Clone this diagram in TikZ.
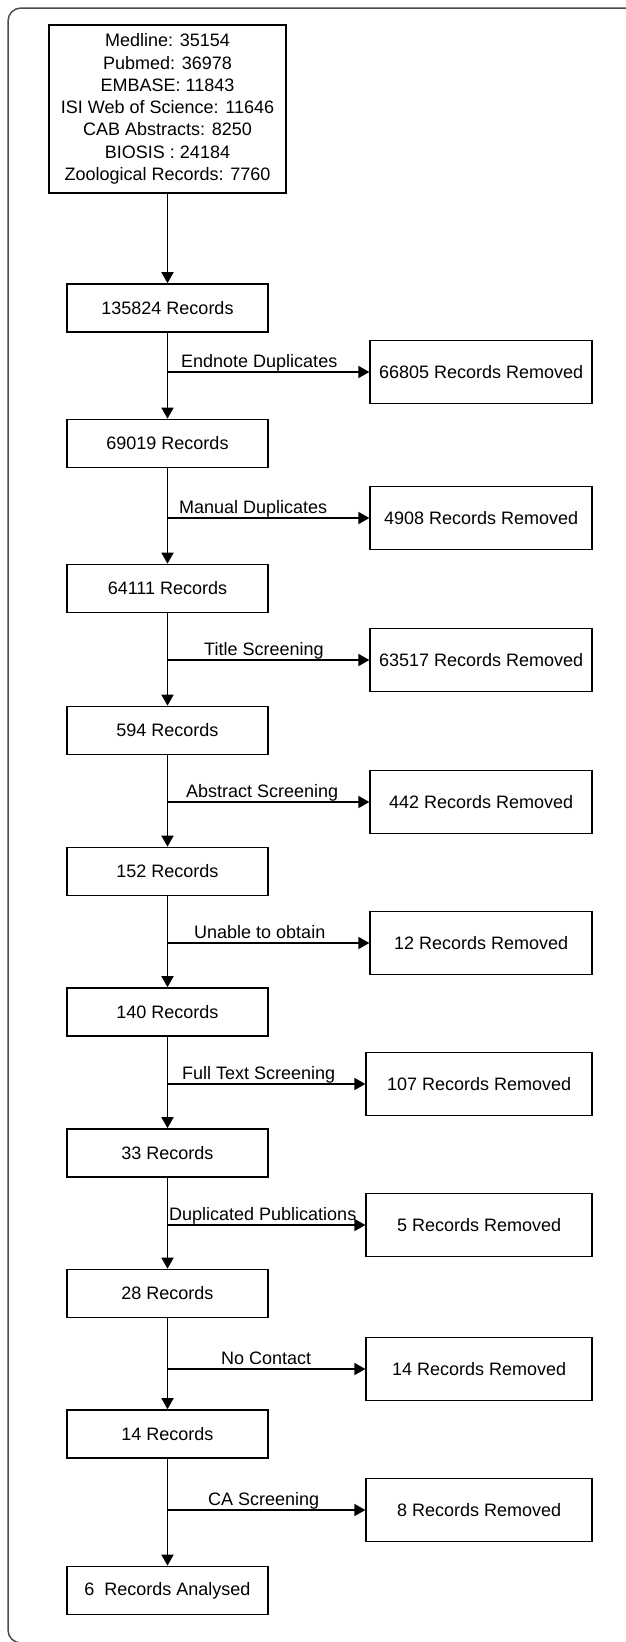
\documentclass[tikz,border=0pt]{standalone}
\usepackage{fontspec}
\setmainfont{Liberation Sans}
\usetikzlibrary{arrows.meta}

\tikzset{
	frame/.style={draw=black!70, line width=1.5pt, rounded corners=13pt},
	srcbox/.style={draw, line width=1.6pt, minimum width=237pt, minimum height=168pt, inner sep=0pt, align=center, font=\fontsize{18}{22.3}\selectfont},
	recbox/.style={draw, line width=1.6pt, minimum width=201pt, minimum height=48pt, inner sep=0pt, font=\fontsize{18}{22}\selectfont},
	rembox/.style={draw, line width=1.6pt, minimum height=63pt, inner sep=0pt, anchor=east, font=\fontsize{18}{22}\selectfont},
	flow/.style={line width=1.6pt, -{Triangle[length=11pt,width=12pt]}},
	lbl/.style={anchor=base west, inner sep=0pt, yshift=4.5pt, font=\fontsize{18}{22}\selectfont}
}

\begin{document}
\begin{tikzpicture}[x=1pt, y=-1pt]
			\useasboundingbox (0,0) rectangle (625,1642);
			\draw[frame] (8,8) rectangle (660,1643);
			% Nodes
			\node[srcbox] (src) at (167.5,109) {Medline: 35154\\Pubmed: 36978\\EMBASE: 11843\\ISI Web of Science: 11646\\CAB Abstracts: 8250\\BIOSIS : 24184\\Zoological Records: 7760};
			\foreach \i/\y/\t in {1/308/135824 Records, 2/443.5/69019 Records, 3/588.5/64111 Records, 4/730.5/594 Records, 5/871.5/152 Records, 6/1012/140 Records, 7/1153/33 Records, 8/1293.5/28 Records, 9/1434/14 Records, 10/1590.5/6\ \ Records Analysed} {
				\node[recbox] (rec\i) at (167.5,\y) {\t};
			}
			\foreach \i/\y/\w/\t/\lx/\l in {1/372/222/66805/181/Endnote Duplicates, 2/518/222/4908/179/Manual Duplicates, 3/660/222/63517/204/Title Screening, 4/802/222/442/186/Abstract Screening, 5/943/222/12/194/Unable to obtain, 6/1084/226/107/182/Full Text Screening, 7/1225/226/5/169/Duplicated Publications, 8/1369/226/14/221/No Contact, 9/1510/226/8/208/CA Screening} {
				\node[rembox, minimum width=\w pt] (rem\i) at (593,\y) {\t\ Records Removed};
				\node[lbl] (lbl\i) at (\lx,\y) {\l};
				\draw[flow] (rec\i.south |- rem\i.west) -- (rem\i.west);
			}
			% Connectors
			\draw[flow] (src) -- (rec1);
			\foreach \i/\j in {1/2, 2/3, 3/4, 4/5, 5/6, 6/7, 7/8, 8/9, 9/10} {
				\draw[flow] (rec\i) -- (rec\j);
			}
		\end{tikzpicture}
\end{document}
